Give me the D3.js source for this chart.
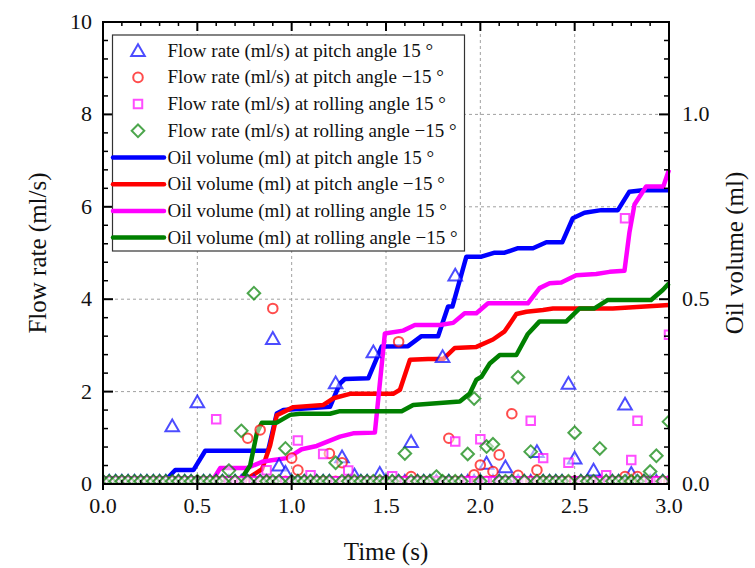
<!DOCTYPE html>
<html><head><meta charset="utf-8">
<script src="https://cdn.jsdelivr.net/npm/d3@7"></script>
<style>body{margin:0;background:#fff} text{font-family:"Liberation Serif","Times New Roman",serif;fill:#111}</style>
</head><body><svg id="c" width="755" height="568"></svg>
<script>
// ---- data ----
const sampleTimes = [
 0.000,0.033,0.067,0.100,0.133,0.167,0.200,0.233,0.267,0.300,
 0.333,0.367,0.400,0.433,0.467,0.500,0.533,0.567,0.600,0.633,
 0.667,0.700,0.733,0.767,0.800,0.833,0.867,0.900,0.933,0.967,
 1.000,1.033,1.067,1.100,1.133,1.167,1.200,1.233,1.267,1.300,
 1.333,1.367,1.400,1.433,1.467,1.500,1.533,1.567,1.600,1.633,
 1.667,1.700,1.733,1.767,1.800,1.833,1.867,1.900,1.933,1.967,
 2.000,2.033,2.067,2.100,2.133,2.167,2.200,2.233,2.267,2.300,
 2.333,2.367,2.400,2.433,2.467,2.500,2.533,2.567,2.600,2.633,
 2.667,2.700,2.733,2.767,2.800,2.833,2.867,2.900,2.933,2.967,
 3.000];
const flowPitchPos = [
 0.06,0.06,0.06,0.06,0.06,0.06,0.06,0.06,0.06,0.06,
 0.06,1.26,0.06,0.06,0.06,1.78,0.06,0.06,0.06,0.06,
 0.06,0.06,0.06,0.06,0.06,0.06,0.06,3.15,0.41,0.25,
 0.06,0.06,0.06,0.06,0.06,0.06,0.06,2.19,0.59,0.06,
 0.19,0.06,0.06,2.86,0.23,0.06,0.06,0.06,0.06,0.92,
 0.06,0.06,0.06,0.06,2.76,0.06,4.52,0.06,0.06,0.06,
 0.06,0.45,0.06,0.06,0.37,0.06,0.06,0.06,0.06,0.70,
 0.06,0.06,0.06,0.06,2.18,0.56,0.06,0.06,0.30,0.06,
 0.06,0.06,0.06,1.73,0.23,0.06,0.06,0.06,0.06,0.06,
 0.06];
const flowPitchNeg = [
 0.06,0.06,0.06,0.06,0.06,0.06,0.06,0.06,0.06,0.06,
 0.06,0.06,0.06,0.06,0.06,0.06,0.06,0.06,0.06,0.06,
 0.06,0.06,0.06,0.99,0.06,1.17,0.06,3.80,0.06,0.06,
 0.56,0.30,0.06,0.06,0.06,0.06,0.66,0.06,0.46,0.06,
 0.06,0.06,0.06,0.06,0.06,0.06,0.06,3.08,0.06,0.16,
 0.06,0.06,0.06,0.06,0.06,0.99,0.06,0.06,0.06,0.20,
 0.41,0.06,0.27,0.63,0.06,1.52,0.19,0.06,0.06,0.30,
 0.06,0.06,0.06,0.06,0.06,0.06,0.06,0.06,0.06,0.06,
 0.06,0.06,0.06,0.16,0.06,0.16,0.06,0.06,0.06,0.06,
 0.06];
const flowRollPos = [
 0.06,0.06,0.06,0.06,0.06,0.06,0.06,0.06,0.06,0.06,
 0.06,0.06,0.06,0.06,0.06,0.06,0.06,0.06,1.40,0.06,
 0.06,0.06,0.06,0.06,0.06,0.06,0.30,0.06,0.06,0.06,
 0.06,0.94,0.06,0.19,0.06,0.65,0.06,0.06,0.06,0.29,
 0.06,0.06,0.06,0.06,0.06,0.06,0.17,0.06,0.06,0.06,
 0.06,0.06,0.06,0.06,0.06,0.06,0.92,0.06,0.06,0.06,
 0.97,0.06,0.06,0.06,0.06,0.06,0.06,0.06,1.37,0.06,
 0.56,0.06,0.06,0.06,0.46,0.06,0.06,0.06,0.06,0.06,
 0.19,0.06,0.06,5.75,0.52,1.37,0.06,0.06,0.06,0.06,
 3.23];
const flowRollNeg = [
 0.06,0.06,0.06,0.06,0.06,0.06,0.06,0.06,0.06,0.06,
 0.06,0.06,0.06,0.06,0.06,0.06,0.06,0.06,0.06,0.06,
 0.29,0.06,1.15,0.06,4.13,0.06,0.06,0.06,0.06,0.77,
 0.06,0.06,0.06,0.06,0.06,0.06,0.06,0.46,0.06,0.06,
 0.06,0.06,0.06,0.06,0.06,0.06,0.06,0.06,0.66,0.06,
 0.06,0.06,0.06,0.16,0.06,0.06,0.06,0.06,0.65,1.85,
 0.06,0.81,0.86,0.06,0.06,0.06,2.31,0.06,0.70,0.06,
 0.06,0.06,0.06,0.06,0.06,1.11,0.06,0.06,0.06,0.77,
 0.06,0.06,0.06,0.06,0.06,0.06,0.06,0.27,0.61,0.06,
 1.35];

const volPitchPosT = [0,0.32,0.383,0.48,0.542,0.875,0.921,0.956,1.203,1.256,1.282,1.406,1.477,1.617,1.688,1.776,1.829,1.852,1.926,2.006,2.076,2.129,2.20,2.279,2.35,2.434,2.49,2.552,2.641,2.729,2.79,2.861,3.0];
const volPitchPosV = [0.004,0.004,0.038,0.038,0.09,0.09,0.191,0.2,0.209,0.272,0.284,0.286,0.372,0.373,0.40,0.40,0.48,0.48,0.615,0.615,0.626,0.626,0.638,0.638,0.654,0.654,0.719,0.734,0.741,0.741,0.791,0.795,0.795];
const volPitchNegT = [0,0.732,0.843,0.886,0.921,1.009,1.168,1.221,1.309,1.538,1.574,1.627,1.723,1.803,1.865,1.979,2.067,2.129,2.191,2.244,2.332,2.385,2.702,3.0];
const volPitchNegV = [0.004,0.004,0.04,0.105,0.186,0.208,0.214,0.232,0.244,0.244,0.255,0.336,0.338,0.338,0.368,0.371,0.391,0.413,0.46,0.466,0.471,0.475,0.475,0.484];
const volRollPosT = [0,0.574,0.621,0.762,0.850,0.903,0.974,1.018,1.053,1.133,1.186,1.256,1.326,1.441,1.494,1.591,1.653,1.786,1.856,1.917,1.979,2.041,2.252,2.314,2.367,2.429,2.508,2.614,2.685,2.764,2.79,2.817,2.879,2.97,3.0];
const volRollPosV = [0.004,0.004,0.043,0.043,0.061,0.065,0.070,0.083,0.094,0.103,0.114,0.128,0.137,0.139,0.407,0.415,0.430,0.430,0.436,0.462,0.462,0.489,0.489,0.530,0.543,0.545,0.565,0.568,0.574,0.577,0.68,0.756,0.805,0.805,0.85];
const volRollNegT = [0,0.72,0.78,0.815,0.842,0.921,0.992,1.044,1.203,1.256,1.583,1.644,1.891,1.944,1.979,2.006,2.05,2.103,2.191,2.252,2.314,2.456,2.526,2.605,2.676,2.905,2.967,3.0];
const volRollNegV = [0.004,0.004,0.05,0.137,0.166,0.166,0.187,0.19,0.19,0.197,0.197,0.214,0.223,0.245,0.282,0.29,0.326,0.349,0.349,0.406,0.44,0.44,0.475,0.475,0.498,0.498,0.525,0.543];

const xTicks = [0,0.5,1.0,1.5,2.0,2.5,3.0];
const yLeftTicks = [0,2,4,6,8,10];
const yRightTicks = [0,0.5,1.0];
const scatterLabels = ["Flow rate (ml/s) at pitch angle 15 °","Flow rate (ml/s) at pitch angle −15 °","Flow rate (ml/s) at rolling angle 15 °","Flow rate (ml/s) at rolling angle −15 °"];
const lineLabels = ["Oil volume (ml) at pitch angle 15 °","Oil volume (ml) at pitch angle −15 °","Oil volume (ml) at rolling angle 15 °","Oil volume (ml) at rolling angle −15 °"];

// ---- layout ----
const L=103, R=669, T=22, B=484;
const svg = d3.select("#c");
const x = d3.scaleLinear().domain([0,3]).range([L,R]);
const yL = d3.scaleLinear().domain([0,10]).range([B,T]);
const yR = d3.scaleLinear().domain([0,1.25]).range([B,T]);

svg.append("defs").append("clipPath").attr("id","clip")
  .append("rect").attr("x",L).attr("y",T).attr("width",R-L).attr("height",B-T);

// grid
const grid = svg.append("g").attr("stroke","#a0a0a0").attr("stroke-width",1).attr("stroke-dasharray","3,3");
xTicks.slice(1,-1).forEach(t=>grid.append("line").attr("x1",x(t)).attr("x2",x(t)).attr("y1",T).attr("y2",B));
yLeftTicks.slice(1,-1).forEach(t=>grid.append("line").attr("x1",L).attr("x2",R).attr("y1",yL(t)).attr("y2",yL(t)));

// lines
const lineDefs = [
  {t:volPitchPosT,v:volPitchPosV,c:"#0000ff"},
  {t:volPitchNegT,v:volPitchNegV,c:"#ff0000"},
  {t:volRollPosT,v:volRollPosV,c:"#ff00ff"},
  {t:volRollNegT,v:volRollNegV,c:"#008000"}];
const lineGen = d3.line().x(d=>x(d[0])).y(d=>yR(d[1]));
lineDefs.forEach(s=>{
  svg.append("path").attr("d",lineGen(s.t.map((t,i)=>[t,s.v[i]])))
    .attr("fill","none").attr("stroke",s.c).attr("stroke-width",4.5).attr("stroke-linejoin","round");
});

// markers
const symTri = d3.symbol().type(d3.symbolTriangle).size(80)();
const symCirc = d3.symbol().type(d3.symbolCircle).size(72)();
const symSq = d3.symbol().type(d3.symbolSquare).size(72)();
const symDia = "M0,-6.3L6.3,0L0,6.3L-6.3,0Z";
const scatterDefs = [
  {v:flowPitchPos,c:"#0000ff",s:symTri,dy:1.5},
  {v:flowPitchNeg,c:"#ff0000",s:symCirc,dy:0},
  {v:flowRollPos,c:"#ff00ff",s:symSq,dy:0},
  {v:flowRollNeg,c:"#008000",s:symDia,dy:0}];
const mg = svg.append("g").attr("clip-path","url(#clip)");
scatterDefs.forEach(s=>{
  mg.append("g").selectAll("path").data(sampleTimes.map((t,i)=>[t,s.v[i]])).join("path")
    .attr("d",s.s).attr("transform",d=>`translate(${x(d[0])},${yL(d[1])+s.dy})`)
    .attr("fill","#fff").attr("fill-opacity",0.5).attr("stroke",s.c).attr("stroke-opacity",0.7).attr("stroke-width",2);
});

// frame and ticks
const ax = svg.append("g").attr("stroke","#000");
ax.append("rect").attr("x",L).attr("y",T).attr("width",R-L).attr("height",B-T).attr("fill","none").attr("stroke-width",2);
d3.range(0,31).forEach(i=>{
  const t=i/10, major = i%5===0;
  ax.append("line").attr("x1",x(t)).attr("x2",x(t)).attr("y1",B-(major?9:4)).attr("y2",B+(major?6:0)).attr("stroke-width",major?2:1.5);
  ax.append("line").attr("x1",x(t)).attr("x2",x(t)).attr("y1",T).attr("y2",T+(major?9:4)).attr("stroke-width",major?2:1.5);
});
d3.range(0,26).forEach(i=>{
  const v=i*0.4, major = i%5===0;
  ax.append("line").attr("x1",L).attr("x2",L+(major?10:5)).attr("y1",yL(v)).attr("y2",yL(v)).attr("stroke-width",major?2:1.5);
});
d3.range(0,26).forEach(i=>{
  const v=i*0.05, major = i%10===0;
  ax.append("line").attr("x1",R).attr("x2",R-(major?10:5)).attr("y1",yR(v)).attr("y2",yR(v)).attr("stroke-width",major?2:1.5);
});

// tick labels
const lab = svg.append("g").style("font-size","22px");
xTicks.forEach(t=>lab.append("text").attr("x",x(t)).attr("y",B+29).attr("text-anchor","middle").text(d3.format(".1f")(t)));
yLeftTicks.forEach(t=>lab.append("text").attr("x",L-11).attr("y",yL(t)+7).attr("text-anchor","end").text(t));
yRightTicks.forEach(t=>lab.append("text").attr("x",R+13).attr("y",yR(t)+7).attr("text-anchor","start").text(d3.format(".1f")(t)));

// titles
svg.append("text").attr("x",(L+R)/2).attr("y",560).attr("text-anchor","middle").style("font-size","25px").text("Time (s)");
svg.append("text").attr("transform",`translate(46,${(T+B)/2}) rotate(-90)`).attr("text-anchor","middle").style("font-size","25px").text("Flow rate (ml/s)");
svg.append("text").attr("transform",`translate(743,${(T+B)/2}) rotate(-90)`).attr("text-anchor","middle").style("font-size","25px").text("Oil volume (ml)");

// legend
const lg = svg.append("g");
lg.append("rect").attr("x",112.5).attr("y",35).attr("width",352).attr("height",216).attr("fill","#fff").attr("stroke","#333").attr("stroke-width",1.2);
const rowY = i=>50.7 + i*26.7;
scatterDefs.forEach((s,i)=>{
  lg.append("path").attr("d",s.s).attr("transform",`translate(138,${rowY(i)+s.dy})`)
    .attr("fill","#fff").attr("stroke",s.c).attr("stroke-opacity",0.7).attr("stroke-width",2);
  lg.append("text").attr("x",167.5).attr("y",rowY(i)+6).style("font-size","19px").text(scatterLabels[i]);
});
lineDefs.forEach((s,i)=>{
  lg.append("line").attr("x1",113).attr("x2",164).attr("y1",rowY(i+4)).attr("y2",rowY(i+4)).attr("stroke",s.c).attr("stroke-width",4.5).attr("stroke-linecap","round");
  lg.append("text").attr("x",167.5).attr("y",rowY(i+4)+6).style("font-size","19px").text(lineLabels[i]);
});
</script></body></html>
